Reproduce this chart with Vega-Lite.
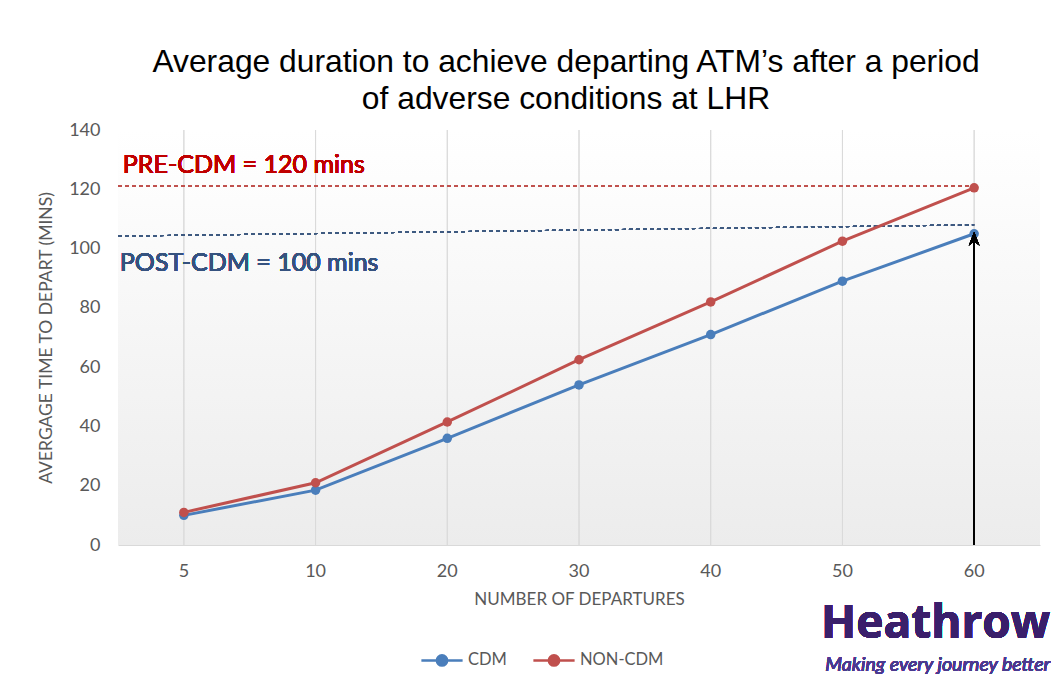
{
  "$schema": "https://vega.github.io/schema/vega-lite/v6.json",
  "width": 922,
  "height": 415,
  "autosize": {"type": "none"},
  "padding": {"left": 118, "top": 130, "right": 17, "bottom": 141},
  "background": "#ffffff",
  "config": {
    "view": {"stroke": null},
    "font": "Lato"
  },
  "title": {
    "text": ["Average duration to achieve departing ATM’s after a period", "of adverse conditions at LHR"],
    "font": "Liberation Sans",
    "fontSize": 31.8,
    "fontWeight": "normal",
    "color": "#000000",
    "lineHeight": 37,
    "anchor": "middle",
    "dx": -13,
    "offset": 5
  },
  "data": {
    "values": [
      {"departures": "5", "series": "CDM", "value": 10},
      {"departures": "10", "series": "CDM", "value": 18.5},
      {"departures": "20", "series": "CDM", "value": 36},
      {"departures": "30", "series": "CDM", "value": 54},
      {"departures": "40", "series": "CDM", "value": 71},
      {"departures": "50", "series": "CDM", "value": 89},
      {"departures": "60", "series": "CDM", "value": 105},
      {"departures": "5", "series": "NON-CDM", "value": 11},
      {"departures": "10", "series": "NON-CDM", "value": 21},
      {"departures": "20", "series": "NON-CDM", "value": 41.5},
      {"departures": "30", "series": "NON-CDM", "value": 62.5},
      {"departures": "40", "series": "NON-CDM", "value": 82},
      {"departures": "50", "series": "NON-CDM", "value": 102.5},
      {"departures": "60", "series": "NON-CDM", "value": 120.5}
    ]
  },
  "layer": [
    {
      "mark": {
        "type": "rect",
        "color": {
          "gradient": "linear",
          "x1": 0, "y1": 0, "x2": 0, "y2": 1,
          "stops": [
            {"offset": 0, "color": "#ffffff"},
            {"offset": 0.12, "color": "#fdfdfd"},
            {"offset": 1, "color": "#ececec"}
          ]
        }
      },
      "encoding": {
        "y": {"datum": 140, "type": "quantitative"},
        "y2": {"datum": 0}
      }
    },
    {
      "mark": {"type": "rule", "color": "#dadada", "strokeWidth": 1},
      "encoding": {
        "x": {"field": "departures", "type": "ordinal"}
      }
    },
    {
      "mark": {"type": "rule", "color": "#c0504d", "strokeDash": [4, 3], "strokeWidth": 1.2},
      "encoding": {
        "x": {"datum": "5", "bandPosition": 0, "type": "nominal"},
        "x2": {"datum": "60", "bandPosition": 0.5},
        "y": {"datum": 121, "type": "quantitative"}
      }
    },
    {
      "mark": {"type": "rule", "color": "#3e5a80", "strokeDash": [4, 3], "strokeWidth": 1.2},
      "encoding": {
        "x": {"datum": "5", "bandPosition": 0, "type": "nominal"},
        "x2": {"datum": "60", "bandPosition": 0.5},
        "y": {"datum": 104.2, "type": "quantitative"},
        "y2": {"datum": 108}
      }
    },
    {
      "mark": {"type": "line", "strokeWidth": 3, "point": {"filled": true, "size": 90}},
      "encoding": {
        "x": {
          "field": "departures",
          "type": "ordinal",
          "sort": ["5", "10", "20", "30", "40", "50", "60"],
          "scale": {"type": "band", "paddingInner": 0, "paddingOuter": 0, "domain": ["5", "10", "20", "30", "40", "50", "60"]},
          "axis": {
            "title": "NUMBER OF DEPARTURES",
            "titleFont": "Lato",
            "titleFontSize": 17,
            "titleFontWeight": "normal",
            "titleColor": "#595959",
            "titlePadding": 11,
            "labelFont": "Lato",
            "labelFontSize": 18,
            "labelColor": "#595959",
            "labelAngle": 0,
            "labelAlign": "center",
            "labelPadding": 26,
            "ticks": false,
            "grid": false,
            "domainColor": "#d9d9d9",
            "domainWidth": 1
          }
        },
        "y": {
          "field": "value",
          "type": "quantitative",
          "scale": {"domain": [0, 140]},
          "axis": {
            "title": "AVERGAGE TIME TO DEPART (MINS)",
            "titleFont": "Lato",
            "titleFontSize": 17.5,
            "titleFontWeight": "normal",
            "titleColor": "#595959",
            "titlePadding": 13,
            "labelFont": "Lato",
            "labelFontSize": 18,
            "labelColor": "#595959",
            "labelPadding": 18,
            "values": [0, 20, 40, 60, 80, 100, 120, 140],
            "ticks": false,
            "grid": false,
            "domain": false
          }
        },
        "color": {
          "field": "series",
          "type": "nominal",
          "scale": {"domain": ["CDM", "NON-CDM"], "range": ["#4a7ebb", "#c0504d"]},
          "legend": {
            "title": null,
            "orient": "none",
            "direction": "horizontal",
            "legendX": 302,
            "legendY": 508,
            "labelFont": "Lato",
            "labelFontSize": 16.5,
            "labelColor": "#595959",
            "symbolType": "M-1,0L-0.25,0A0.25,0.25,0,1,1,0.25,0A0.25,0.25,0,1,1,-0.25,0M0.25,0L1,0",
            "symbolSize": 1700,
            "symbolStrokeWidth": 2.5,
            "labelOffset": 4,
            "columnPadding": 21,
            "encode": {
              "symbols": {"update": {"fill": {"scale": "color", "field": "value"}, "stroke": {"scale": "color", "field": "value"}}}
            }
          }
        }
      }
    },
    {
      "mark": {"type": "rule", "color": "#000000", "strokeWidth": 1.5},
      "encoding": {
        "x": {"datum": "60", "type": "nominal"},
        "y": {"datum": 0, "type": "quantitative"},
        "y2": {"datum": 103}
      }
    },
    {
      "mark": {"type": "point", "shape": "M0,-1L0.75,0.9L0,0.35L-0.75,0.9Z", "filled": true, "color": "#000000", "size": 200, "opacity": 1},
      "encoding": {
        "x": {"datum": "60", "type": "nominal"},
        "y": {"datum": 103.2, "type": "quantitative"}
      }
    },
    {
      "mark": {"type": "text", "text": "PRE-CDM = 120 mins", "font": "Lato", "fontSize": 25, "fontWeight": 400, "color": "#c00000", "align": "left", "baseline": "alphabetic", "dx": -61},
      "encoding": {
        "x": {"datum": "5", "type": "nominal"},
        "y": {"datum": 125.5, "type": "quantitative"}
      }
    },
    {
      "mark": {"type": "text", "text": "POST-CDM = 100 mins", "font": "Lato", "fontSize": 25, "fontWeight": 400, "color": "#35527f", "align": "left", "baseline": "alphabetic", "dx": -64},
      "encoding": {
        "x": {"datum": "5", "type": "nominal"},
        "y": {"datum": 92.5, "type": "quantitative"}
      }
    },
    {
      "mark": {"type": "text", "text": "Heathrow", "font": "Open Sans", "fontSize": 46, "fontWeight": "bold", "color": "#3a1f6b", "align": "right", "baseline": "alphabetic", "dx": 76, "clip": false},
      "encoding": {
        "x": {"datum": "60", "type": "nominal"},
        "y": {"datum": -31.5, "type": "quantitative"}
      }
    },
    {
      "mark": {"type": "text", "text": "Making every journey better", "font": "Lato", "fontSize": 19.5, "fontStyle": "italic", "color": "#4b3a8f", "align": "right", "baseline": "alphabetic", "dx": 76, "clip": false},
      "encoding": {
        "x": {"datum": "60", "type": "nominal"},
        "y": {"datum": -42.5, "type": "quantitative"}
      }
    }
  ]
}
